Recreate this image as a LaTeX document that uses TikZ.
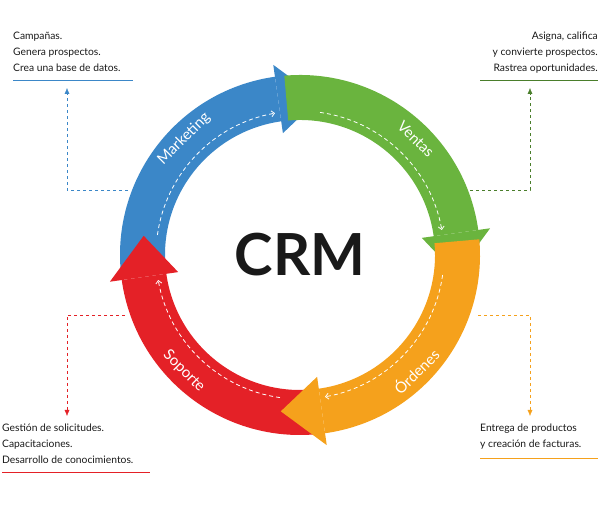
\documentclass[tikz,border=0pt]{standalone}
\usepackage{fontspec}
\setmainfont{Lato}
\usetikzlibrary{arrows.meta}
\definecolor{cblue}{HTML}{3B87C8}
\definecolor{cgreen}{HTML}{6AB43E}
\definecolor{corange}{HTML}{F5A11C}
\definecolor{cred}{HTML}{E42127}
\newcommand{\Ro}{180}\newcommand{\Ri}{135}\newcommand{\Rm}{157.5}
\newcommand{\ringbody}[3]{\fill[#1] (#2:\Ro) arc[start angle=#2,end angle=#3,radius=\Ro] -- (#3:\Ri) arc[start angle=#3,end angle=#2,radius=\Ri] -- cycle;}
\newcommand{\ringhead}[3]{\fill[#1] (#2:\Ro+12) -- (#3:\Rm) -- (#2:\Ri-12) -- cycle;}
\begin{document}
\begin{tikzpicture}[x=1pt,y=1pt,
  side/.style={font=\fontsize{10.3}{16}\selectfont, text=black!90, inner sep=0pt},
  lab/.style={white,font=\fontsize{15}{15}\selectfont},
  conn/.style={dashed,-{Latex[length=6pt,width=5pt]}},
  wdash/.style={white,thick,dash pattern=on 4pt off 3pt,-{Straight Barb[length=3pt,width=6pt]}}]
\useasboundingbox (0,0) rectangle (600,508);
\begin{scope}[shift={(300,253)}]
\ringbody{cred}{-85}{-172}
\ringbody{cblue}{185}{98}\ringhead{cblue}{98}{83}
\ringbody{cgreen}{95}{8}\ringhead{cgreen}{8}{-7}
\ringbody{corange}{5}{-82}\ringhead{corange}{-82}{-97}
\ringhead{cred}{-172}{-187}
\draw[wdash] (172:144) arc[start angle=172,end angle=100,radius=144];
\draw[wdash] (82:144) arc[start angle=82,end angle=10,radius=144];
\draw[wdash] (-8:144) arc[start angle=-8,end angle=-80,radius=144];
\draw[wdash] (-98:144) arc[start angle=-98,end angle=-170,radius=144];
\node[lab,rotate=45] (lm) at (135:164) {Marketing};
\node[lab,rotate=-45] (lv) at (45:164) {Ventas};
\node[lab,rotate=45] (lo) at (-45:164) {Órdenes};
\node[lab,rotate=-45] (ls) at (-135:164) {Soporte};
\node[font=\fontsize{58}{58}\selectfont\bfseries,text=black!90] (crm) at (0,0) {CRM};
\end{scope}
% top-left
\node[side,anchor=north west,align=left] (tl) at (13,476) {Campañas.\\Genera prospectos.\\Crea una base de datos.};
\draw[cblue,thick] (13,428) -- (133,428);
\coordinate (a1) at (128,318);\coordinate (a2) at (67,318);\coordinate (a3) at (67,420);
\draw[cblue,conn] (a1) -- (a2) -- (a3);
% top-right
\node[side,anchor=north east,align=right] (tr) at (598,476) {Asigna, califica\\y convierte prospectos.\\Rastrea oportunidades.};
\draw[cgreen!70!black,thick] (480,428) -- (598,428);
\coordinate (b1) at (470,318);\coordinate (b2) at (530,318);\coordinate (b3) at (530,420);
\draw[cgreen!70!black,conn] (b1) -- (b2) -- (b3);
% bottom-right
\node[side,anchor=north west,align=left] (br) at (480,84) {Entrega de productos\\y creación de facturas.};
\draw[corange,thick] (480,50) -- (598,50);
\coordinate (c1) at (478,193);\coordinate (c2) at (530,193);\coordinate (c3) at (530,92);
\draw[corange,conn] (c1) -- (c2) -- (c3);
% bottom-left
\node[side,anchor=north west,align=left] (bl) at (2,84) {Gestión de solicitudes.\\Capacitaciones.\\Desarrollo de conocimientos.};
\draw[cred,thick] (2,36) -- (150,36);
\coordinate (d1) at (125,193);\coordinate (d2) at (67,193);\coordinate (d3) at (67,92);
\draw[cred,conn] (d1) -- (d2) -- (d3);
\end{tikzpicture}
\end{document}
